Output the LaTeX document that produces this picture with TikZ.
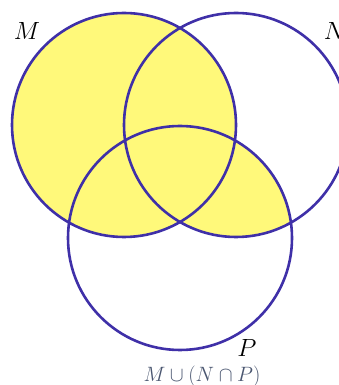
\documentclass[tikz,border=0pt]{standalone}
\usepackage{fontspec}
\definecolor{venfill}{HTML}{FFF97A}
\definecolor{venline}{HTML}{3F30A8}
\definecolor{capcol}{HTML}{4A5670}
\begin{document}
\begin{tikzpicture}[x=1pt,y=1pt,
  ring/.style={draw=venline,line width=2.6pt},
  setlabel/.style={inner sep=0pt,font=\fontsize{26}{30}\selectfont},
  caption/.style={inner sep=0pt,anchor=base,text=capcol,font=\fontsize{22}{26}\selectfont}]
\useasboundingbox (0,0) rectangle (339,385);
\coordinate (cM) at (124,260);
\coordinate (cN) at (236,260);
\coordinate (cP) at (180,147);
\fill[venfill] (cM) circle (112);
\begin{scope}
  \clip (cN) circle (112);
  \fill[venfill] (cP) circle (112);
\end{scope}
\draw[ring] (cM) circle (112);
\draw[ring] (cN) circle (112);
\draw[ring] (cP) circle (112);
\node[setlabel] (lM) at (27,354) {$M$};
\node[setlabel] (lN) at (335,354) {$N$};
\node[setlabel] (lP) at (247,37) {$P$};
\node[caption] (cap) at (202,4) {$M \cup (N \cap P)$};
\end{tikzpicture}
\end{document}
